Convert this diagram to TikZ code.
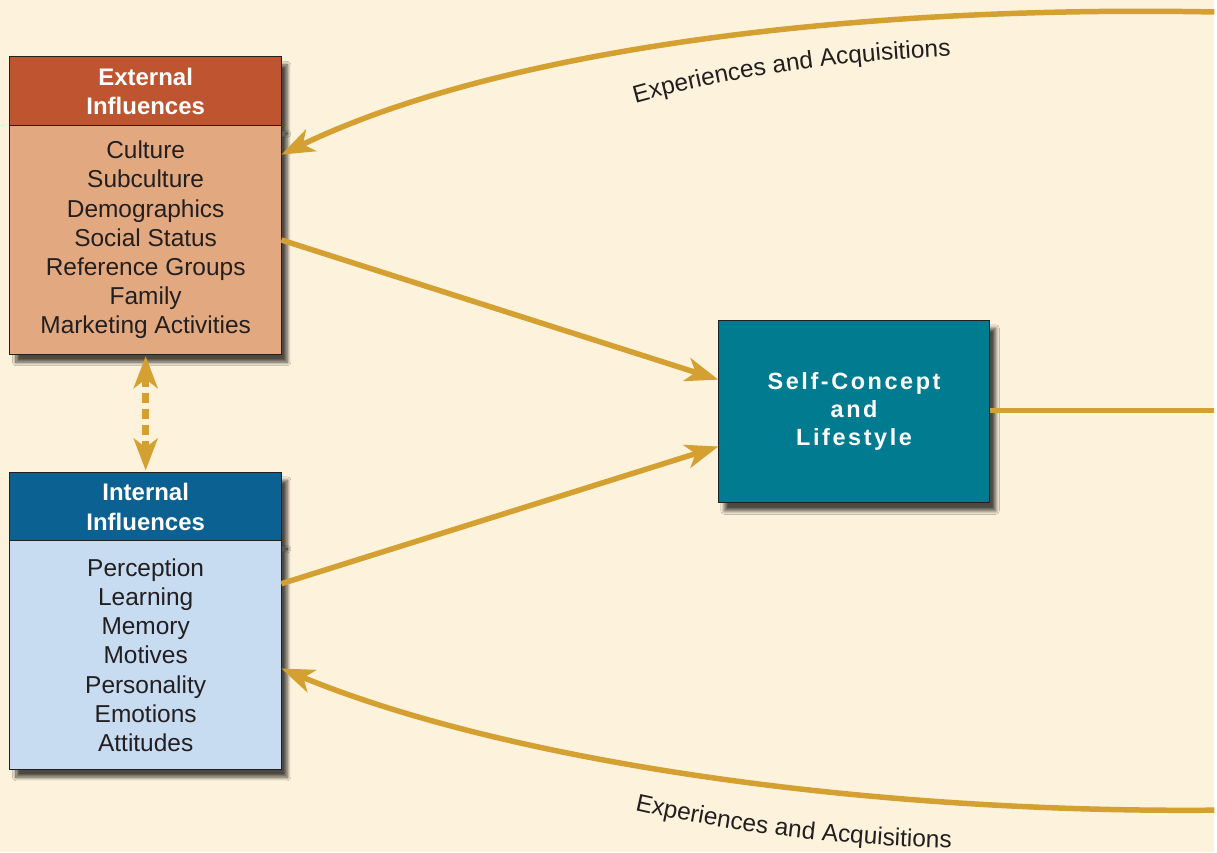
\documentclass[tikz,border=0pt]{standalone}
\usepackage{fontspec}
\setmainfont{Liberation Sans}
\usetikzlibrary{arrows.meta,shadows.blur,decorations.text,calc}
\definecolor{bgc}{HTML}{FDF3DC}
\definecolor{gold}{HTML}{D4A032}
\definecolor{exth}{HTML}{BF5530}
\definecolor{extb}{HTML}{E2A980}
\definecolor{inth}{HTML}{0A6192}
\definecolor{intb}{HTML}{C7DBF1}
\definecolor{selfc}{HTML}{007B90}
\definecolor{ink}{HTML}{231F20}
\newcommand\lblfont{\fontsize{24.5}{29}\selectfont}
\begin{document}
\begin{tikzpicture}[x=1pt,y=-1pt,
 box/.style={draw=ink, line width=1pt, minimum width=272pt, inner sep=0pt, outer sep=0pt, align=center,
   blur shadow={shadow xshift=6pt, shadow yshift=-8pt, shadow blur steps=10, shadow blur radius=3.5pt, shadow opacity=70}},
 head/.style={box, minimum height=69pt, text=white, font=\fontsize{24}{29.3}\selectfont\bfseries},
 body/.style={box, minimum height=229pt, text=ink, font=\fontsize{24.5}{29.3}\selectfont},
 selfbox/.style={box, minimum height=183pt, fill=selfc, text=white,
   font=\fontsize{23.5}{28}\selectfont\bfseries\addfontfeatures{LetterSpace=11}},
 tip/.style={-{Stealth[length=33pt,width=24pt,inset=9pt]}},
 conn/.style={draw=gold, line width=5.5pt, tip},
 dconn/.style={draw=gold, line width=6.5pt, dash pattern=on 10pt off 6pt,
   {Stealth[length=32pt,width=24pt,inset=9pt]}-{Stealth[length=32pt,width=24pt,inset=9pt]},
   shorten >=2pt, shorten <=2pt},
 lbl/.style={decorate, decoration={text along path, text align=center, text color=ink,
   text={|\lblfont|Experiences and Acquisitions}}}
]
\fill[bgc] (0,0) rectangle (1217,854);

% external influences
\node[head, fill=exth] (extH) at (146,91.5) {External\\Influences};
\node[body, fill=extb] (extB) at (146,240.5) {Culture\\Subculture\\Demographics\\Social Status\\Reference Groups\\Family\\Marketing Activities};

% internal influences
\node[head, fill=inth] (intH) at (146,508) {Internal\\Influences};
\node[body, fill=intb] (intB) at (146,656.5) {Perception\\Learning\\Memory\\Motives\\Personality\\Emotions\\Attitudes};

% self-concept
\node[selfbox] (self) at (856,412.5) {Self-Concept\\and\\Lifestyle};

% right-edge free ends
\coordinate (rTop) at (1217,12);
\coordinate (rMid) at (1217,411.5);
\coordinate (rBot) at (1217,812);

% connectors
\draw[conn] (extB.east) -- ([yshift=32pt]self.west);
\draw[conn] ([yshift=71.5pt]intB.east) -- ([yshift=-35pt]self.west);
\draw[draw=gold, line width=5.5pt] (self.east |- rMid) -- (rMid);
\draw[dconn] (extB.south) -- (intH.north);
\draw[conn] (rTop) .. controls (850,5) and (500,50) .. ([yshift=85.5pt]extB.east);
\draw[conn] (rBot) .. controls (850,815) and (500,760) .. ([yshift=-13.5pt]intB.east);

% labels
\path[lbl] (628,106) .. controls (740,74) and (850,60) .. (962,56);
\path[lbl] (628,810) .. controls (740,836) and (850,848) .. (962,850);
\end{tikzpicture}
\end{document}
